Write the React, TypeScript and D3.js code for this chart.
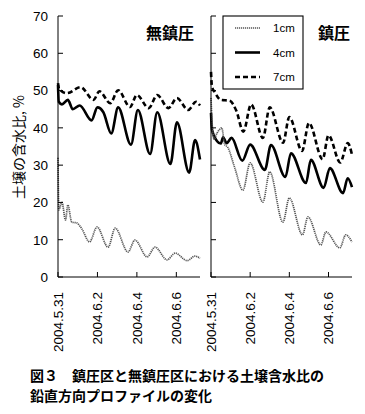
import React, { useRef, useEffect } from 'react';
import * as d3 from 'd3';

// days since 2004.5.31 -> soil water content (%)
const plain1cm: [number, number][] = [
  [0, 32], [0.04, 18], [0.2, 20], [0.38, 15.3], [0.5, 19.3], [0.7, 14.7], [0.95, 14.5], [1.2, 13],
  [1.6, 9.4], [1.98, 13.4], [2.54, 8.0], [2.9, 13.1], [3.55, 6.7], [3.9, 9.9], [4.52, 5.4],
  [4.92, 8.0], [5.53, 4.6], [5.94, 6.4], [6.55, 4.4], [6.95, 5.6], [7.2, 5.0],
];
const plain4cm: [number, number][] = [
  [0, 51.5], [0.04, 47], [0.2, 46.3], [0.5, 47.5], [0.75, 45], [1.1, 46], [1.7, 42], [2.0, 45.5],
  [2.3, 44.2], [2.7, 38.5], [3.05, 45.5], [3.7, 35.5], [4.05, 44.8], [4.67, 33], [5.03, 44.2],
  [5.7, 30.3], [6.03, 41.5], [6.65, 28], [6.95, 36.7], [7.2, 31.5],
];
const plain7cm: [number, number][] = [
  [0, 52], [0.05, 50.5], [0.45, 49.3], [1.15, 50.9], [1.8, 47.5], [2.1, 49.8], [2.65, 46.6],
  [3.05, 50.1], [3.65, 45.6], [4.0, 48.8], [4.6, 45.3], [5.03, 48.8], [5.6, 45.3], [6.03, 48],
  [6.6, 44.8], [7.0, 47], [7.2, 46],
];
const rolled1cm: [number, number][] = [
  [0, 48], [0.05, 42], [0.15, 37], [0.3, 38.5], [0.55, 40], [0.7, 35.5], [0.85, 34.8], [1.2, 29.5],
  [1.63, 23.3], [2.0, 30.6], [2.65, 20.1], [3.0, 28.2], [3.67, 14.7], [4.0, 21.2], [4.67, 11.3],
  [4.95, 16.1], [5.61, 8.6], [5.87, 12.1], [6.58, 7.8], [6.88, 11.3], [7.2, 9.4],
];
const rolled4cm: [number, number][] = [
  [0, 44], [0.05, 39.5], [0.3, 36.5], [0.5, 35.8], [0.62, 37.5], [0.8, 35.9], [1.05, 37.3],
  [1.6, 31.2], [2.0, 35.5], [2.75, 28.7], [3.06, 35.4], [3.8, 26.8], [4.08, 33.2], [4.85, 25.2],
  [5.1, 31.4], [5.75, 23.9], [6.07, 29.2], [6.74, 22.5], [6.98, 26.5], [7.2, 24.1],
];
const rolled7cm: [number, number][] = [
  [0, 55], [0.05, 51], [0.2, 49.5], [0.5, 47.5], [0.95, 47.3], [1.3, 44.5], [1.65, 39], [2.05, 46.3],
  [2.65, 37.3], [3.0, 45.5], [3.68, 36], [4.0, 42.9], [4.65, 33.8], [5.0, 41.3], [5.7, 31.6],
  [6.0, 38], [6.6, 30.7], [6.98, 35.9], [7.2, 32.8],
];

const depths = ['1cm', '4cm', '7cm'];
const dateTicks = [0, 2, 4, 6];
const dateLabels = ['2004.5.31', '2004.6.2', '2004.6.4', '2004.6.6'];
const yTicks = [0, 10, 20, 30, 40, 50, 60, 70];
const panelTitles = ['無鎮圧', '鎮圧'];

const latin = '"Liberation Sans", Arial, sans-serif';
const cjk = '"Noto Sans CJK JP", sans-serif';

const styles = [
  { stroke: '#555', width: 1.7, dash: '1.2 0.8' },
  { stroke: '#000', width: 2.6, dash: null },
  { stroke: '#000', width: 2.6, dash: '5 3' },
];

export default function App() {
  const ref = useRef<SVGSVGElement | null>(null);

  useEffect(() => {
    if (!ref.current) return;
    const svg = d3.select(ref.current);
    svg.selectAll('*').remove();

    const y = d3.scaleLinear().domain([0, 70]).range([277, 16]);
    const panels = [
      { x0: 58, x1: 200, series: [plain1cm, plain4cm, plain7cm], title: panelTitles[0], titleX: 194, labels: true },
      { x0: 211, x1: 352, series: [rolled1cm, rolled4cm, rolled7cm], title: panelTitles[1], titleX: 350, labels: false },
    ];

    panels.forEach(p => {
      const x = d3.scaleLinear().domain([0, 7.2]).range([p.x0, p.x1]);
      const g = svg.append('g');

      // data lines (deep first)
      [2, 1, 0].forEach(i => {
        const line = d3.line<[number, number]>()
          .x(d => x(d[0]))
          .y(d => y(d[1]))
          .curve(d3.curveMonotoneX);
        const s = styles[i];
        g.append('path')
          .datum(p.series[i])
          .attr('fill', 'none')
          .attr('stroke', s.stroke)
          .attr('stroke-width', s.width)
          .attr('stroke-dasharray', s.dash)
          .attr('stroke-linejoin', 'round')
          .attr('d', line);
      });

      // axes
      g.append('line').attr('x1', p.x0).attr('x2', p.x0).attr('y1', y(70)).attr('y2', y(0))
        .attr('stroke', '#000').attr('stroke-width', 1);
      g.append('line').attr('x1', p.x0).attr('x2', p.x1).attr('y1', y(0)).attr('y2', y(0))
        .attr('stroke', '#000').attr('stroke-width', 1);

      yTicks.forEach(t => {
        g.append('line').attr('x1', p.x0).attr('x2', p.x0 + 5).attr('y1', y(t)).attr('y2', y(t))
          .attr('stroke', '#000');
        if (p.labels) {
          g.append('text').attr('x', p.x0 - 10).attr('y', y(t)).attr('dy', '0.36em')
            .attr('text-anchor', 'end').attr('font-family', latin).attr('font-size', 13.5)
            .text(t);
        }
      });

      dateTicks.forEach((t, i) => {
        g.append('line').attr('x1', x(t)).attr('x2', x(t)).attr('y1', y(0)).attr('y2', y(0) - 5)
          .attr('stroke', '#000');
        g.append('text')
          .attr('transform', `translate(${x(t)},${292}) rotate(-90)`)
          .attr('dy', '0.36em').attr('text-anchor', 'end')
          .attr('font-family', latin).attr('font-size', 13.5)
          .text(dateLabels[i]);
      });

      g.append('text').attr('x', p.titleX).attr('y', 39).attr('text-anchor', 'end')
        .attr('font-family', cjk).attr('font-weight', 'bold').attr('font-size', 16)
        .text(p.title);
    });

    // legend
    const lg = svg.append('g');
    lg.append('rect').attr('x', 223).attr('y', 16).attr('width', 80).attr('height', 73)
      .attr('fill', '#fff').attr('stroke', '#000').attr('stroke-width', 1.1);
    depths.forEach((d, i) => {
      const ly = 28 + i * 24.5;
      const s = styles[i];
      lg.append('line').attr('x1', 235).attr('x2', 260).attr('y1', ly).attr('y2', ly)
        .attr('stroke', s.stroke).attr('stroke-width', s.width).attr('stroke-dasharray', s.dash);
      lg.append('text').attr('x', 273).attr('y', ly).attr('dy', '0.36em')
        .attr('font-family', latin).attr('font-size', 11.5).text(d);
    });

    // y label
    svg.append('text')
      .attr('transform', 'translate(19,147) rotate(-90)')
      .attr('dy', '0.36em').attr('text-anchor', 'middle')
      .attr('font-family', cjk).attr('font-size', 14)
      .text('土壌の含水比, %');

    // caption
    const cap = ['図３　鎮圧区と無鎮圧区における土壌含水比の', '鉛直方向プロファイルの変化'];
    cap.forEach((c, i) => {
      svg.append('text').attr('x', 30).attr('y', 381 + i * 19.5)
        .attr('font-family', cjk).attr('font-weight', 'bold').attr('font-size', 14)
        .text(c);
    });
  }, []);

  return (
    <svg ref={ref} width={365} height={414}
      style={{ position: 'absolute', left: 0, top: 0, background: '#fff' }} />
  );
}
